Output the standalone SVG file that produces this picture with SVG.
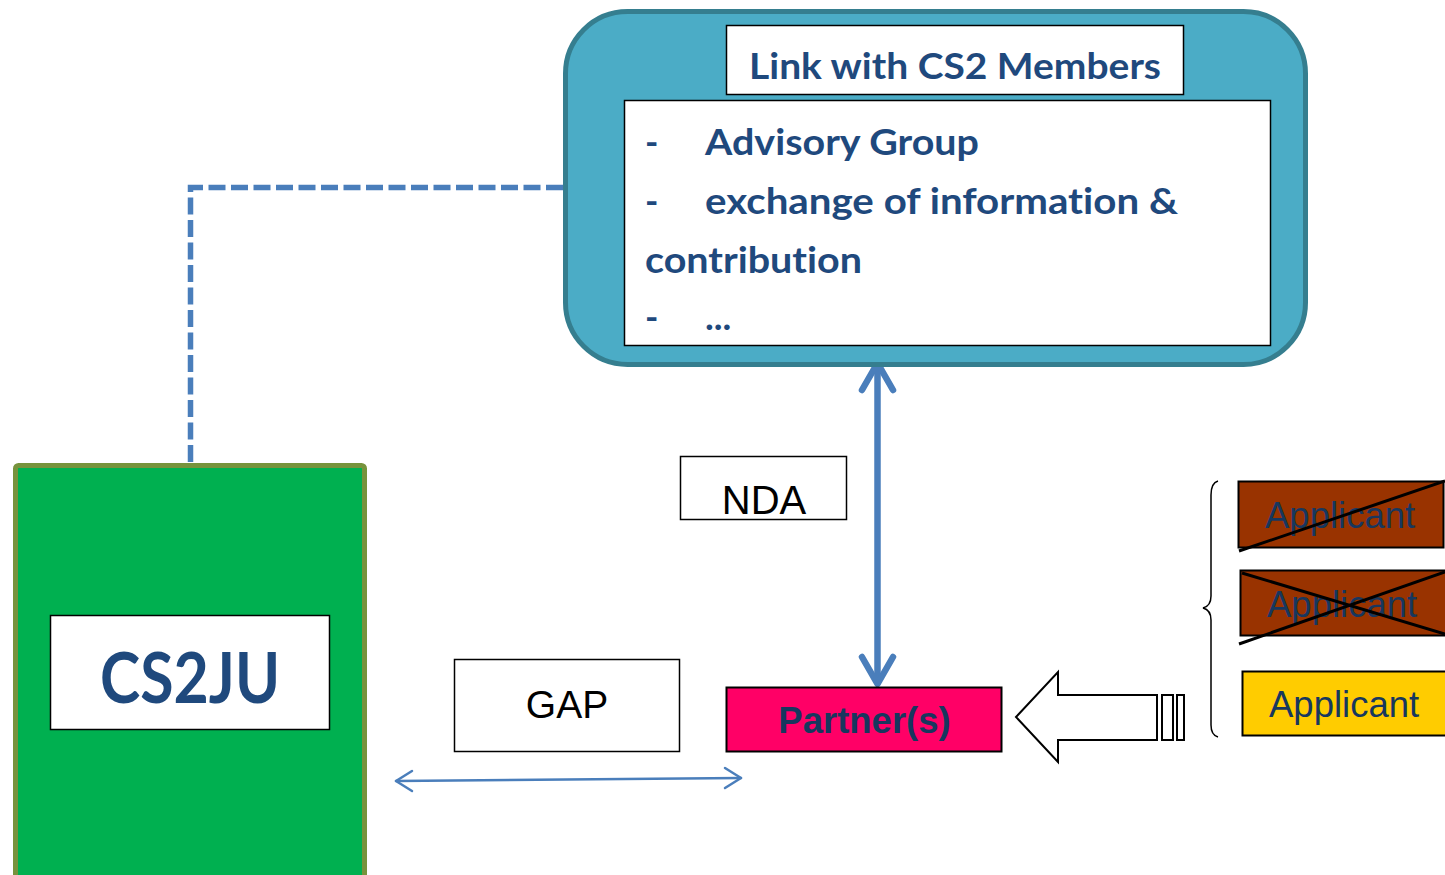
<svg xmlns="http://www.w3.org/2000/svg" width="1445" height="875" viewBox="0 0 1445 875">
<style>
.cal{font-family:Lato,"Open Sans","Liberation Sans",sans-serif;font-weight:bold;fill:#1f497d;font-variant-ligatures:none}
.ar{font-family:"Liberation Sans",Arial,sans-serif}
.box{fill:#fff;stroke:#000;stroke-width:1.5}
.conn{fill:none;stroke:#4a7ebb;stroke-linecap:round;stroke-linejoin:round}
.app{font-family:"Liberation Sans",Arial,sans-serif;font-size:36.5px;fill:#17375e}
.x{stroke:#000;stroke-width:3}
</style>
<rect width="1445" height="875" fill="#fff"/>
<g id="connectors">
<path d="M563,187.5 H190.5 V465" fill="none" stroke="#4a7ebb" stroke-width="5.5" stroke-dasharray="17 5.5"/>
<line class="conn" x1="877.5" y1="368" x2="877.5" y2="682" stroke-width="6.5"/>
<polyline class="conn" points="862,390 877.5,363 893,390" stroke-width="6.5"/>
<polyline class="conn" points="862,657 877.5,684 893,657" stroke-width="6.5"/>
<line class="conn" x1="396" y1="781" x2="741" y2="778" stroke-width="2.5"/>
<polyline class="conn" points="412,771 396,781 412,791" stroke-width="2.5"/>
<polyline class="conn" points="725,768 741,778 725,788" stroke-width="2.5"/>
</g>
<g id="cs2-members">
<rect x="565.5" y="11.5" width="740" height="353" rx="62" fill="#4bacc6" stroke="#357e8f" stroke-width="5"/>
<rect class="box" x="726.5" y="25.5" width="457" height="69"/>
<text class="cal" x="749" y="79" font-size="37" textLength="412" lengthAdjust="spacingAndGlyphs">Link with CS2 Members</text>
<rect class="box" x="624.5" y="100.5" width="646" height="245"/>
<text class="cal" x="645" y="155" font-size="36" font-weight="normal">-</text>
<text class="cal" x="705" y="155" font-size="37" textLength="274" lengthAdjust="spacingAndGlyphs">Advisory Group</text>
<text class="cal" x="645" y="214" font-size="36" font-weight="normal">-</text>
<text class="cal" x="705" y="214" font-size="37" textLength="473" lengthAdjust="spacingAndGlyphs">exchange of information &amp;</text>
<text class="cal" x="645" y="273" font-size="37" textLength="217" lengthAdjust="spacingAndGlyphs">contribution</text>
<text class="cal" x="645" y="330" font-size="36" font-weight="normal">-</text>
<text class="cal" x="705" y="330" font-size="37">...</text>
</g>
<g id="cs2ju">
<rect x="15.5" y="465.5" width="349" height="420" rx="3" fill="#00b050" stroke="#77933c" stroke-width="5"/>
<rect class="box" x="50.5" y="615.5" width="279" height="114"/>
<text class="cal" x="190" y="703" font-size="70" text-anchor="middle" textLength="180" lengthAdjust="spacingAndGlyphs">CS2JU</text>
</g>
<g id="nda">
<rect class="box" x="680.5" y="456.5" width="166" height="63" stroke-width="1.2"/>
<text class="ar" x="764" y="514" font-size="40" text-anchor="middle">NDA</text>
</g>
<g id="gap">
<rect class="box" x="454.5" y="659.5" width="225" height="92" stroke-width="1.2"/>
<text class="ar" x="567" y="718" font-size="39" text-anchor="middle">GAP</text>
</g>
<g id="partners">
<rect x="726.5" y="687.5" width="275" height="64" fill="#ff0066" stroke="#000" stroke-width="2"/>
<text class="ar" x="864.5" y="733" font-size="36.5" font-weight="bold" fill="#17375e" text-anchor="middle">Partner(s)</text>
</g>
<g id="block-arrow" fill="#fff" stroke="#000" stroke-width="2">
<polygon points="1016,717 1058,672 1058,695 1157,695 1157,740 1058,740 1058,762"/>
<rect x="1162" y="695" width="11" height="45"/>
<rect x="1177" y="695" width="7" height="45"/>
</g>
<g id="brace">
<path d="M1218,481 Q1211,483 1211,495 L1211,596 Q1211,606 1203,608 Q1211,610 1211,620 L1211,725 Q1211,735 1218,737" fill="none" stroke="#000" stroke-width="1.5"/>
</g>
<g id="applicant1">
<rect x="1238.5" y="481.5" width="205" height="66" fill="#993300" stroke="#000" stroke-width="2"/>
<text class="app" x="1265" y="528">Applicant</text>
<line class="x" x1="1239" y1="551" x2="1445" y2="481"/>
</g>
<g id="applicant2">
<rect x="1240.5" y="570.5" width="206" height="65" fill="#993300" stroke="#000" stroke-width="2"/>
<text class="app" x="1267" y="617">Applicant</text>
<line class="x" x1="1242" y1="573" x2="1445" y2="634"/>
<line class="x" x1="1239" y1="644" x2="1445" y2="572"/>
</g>
<g id="applicant3">
<rect x="1242.5" y="671.5" width="206" height="64" fill="#ffcc00" stroke="#000" stroke-width="2"/>
<text class="app" x="1269" y="717">Applicant</text>
</g>
</svg>
